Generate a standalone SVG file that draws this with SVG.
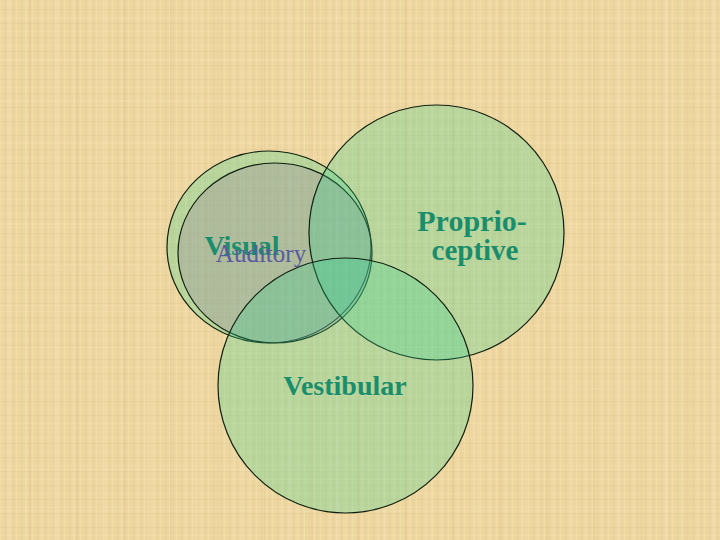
<svg xmlns="http://www.w3.org/2000/svg" width="720" height="540" viewBox="0 0 720 540">
<style>
.c{stroke:#102010;stroke-width:1.2}
.g{fill:#2fd491;fill-opacity:0.27}
.a{fill:#94809c;fill-opacity:0.3}
.t{font-family:"Liberation Serif","Times New Roman",serif;font-weight:bold;fill:#1a8e6c;text-anchor:middle}
</style>
<defs>
<pattern id="weave" width="16" height="14" patternUnits="userSpaceOnUse">
<rect width="16" height="14" fill="#eed6a0"/>
<rect x="0" y="0" width="1" height="14" fill="#f6e2b2" opacity="0.5"/>
<rect x="5" y="0" width="1" height="14" fill="#dcc08a" opacity="0.3"/>
<rect x="9" y="0" width="2" height="14" fill="#f7e4b6" opacity="0.35"/>
<rect x="13" y="0" width="1" height="14" fill="#dabe88" opacity="0.25"/>
<rect x="0" y="3" width="16" height="1" fill="#f6e2b2" opacity="0.35"/>
<rect x="0" y="9" width="16" height="1" fill="#dcc18c" opacity="0.25"/>
</pattern>
<pattern id="weave2" width="47" height="41" patternUnits="userSpaceOnUse">
<rect x="7" y="0" width="3" height="41" fill="#f7e5ba" opacity="0.25"/>
<rect x="29" y="0" width="2" height="41" fill="#d6b983" opacity="0.2"/>
<rect x="0" y="18" width="47" height="2" fill="#f7e5ba" opacity="0.2"/>
</pattern>
</defs>
<rect width="720" height="540" fill="url(#weave)"/>
<rect width="720" height="540" fill="url(#weave2)"/>
<g id="visual"><ellipse class="c g" cx="269" cy="247" rx="102" ry="96"/></g>
<g id="auditory"><ellipse class="c a" cx="275" cy="253" rx="97" ry="90"/></g>
<g id="proprioceptive"><circle class="c g" cx="436.5" cy="232.5" r="127.5"/></g>
<g id="vestibular"><circle class="c g" cx="345.5" cy="385.5" r="127.5"/></g>
<g id="connectors"/>
<g id="labels">
<text class="t" x="242" y="255" font-size="28">Visual</text>
<text x="261" y="262" font-family="Liberation Serif,'Times New Roman',serif" font-size="25" fill="#5a5a9e" text-anchor="middle">Auditory</text>
<text class="t" x="472" y="231" font-size="30">Proprio-</text>
<text class="t" x="475" y="260" font-size="29">ceptive</text>
<text class="t" x="345" y="395" font-size="28">Vestibular</text>
</g>
</svg>
